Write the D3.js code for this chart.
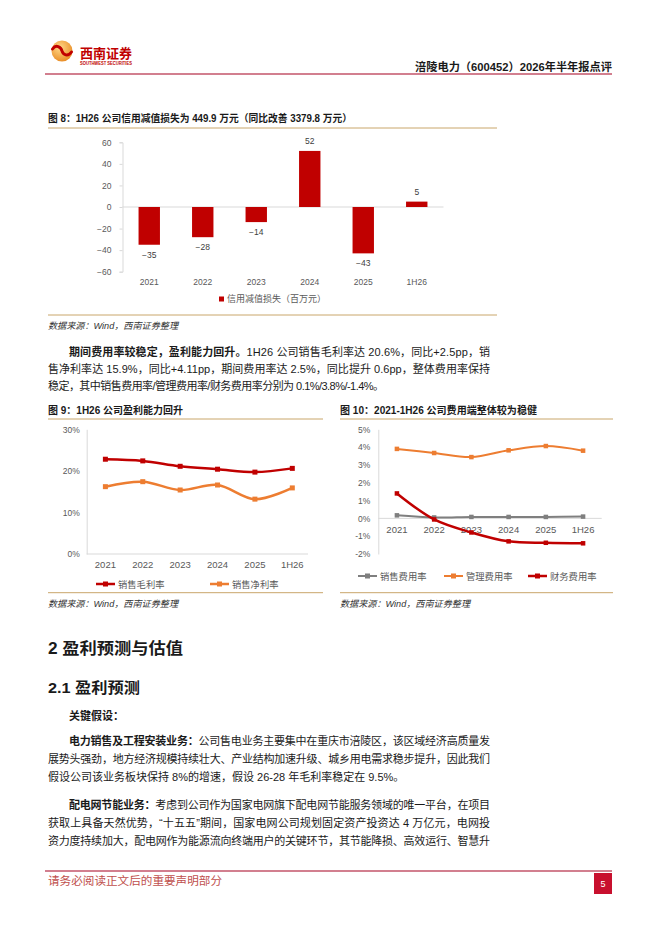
<!DOCTYPE html>
<html>
<head>
<meta charset="utf-8">
<script src="https://cdn.jsdelivr.net/npm/d3@7"></script>
<style>
  body { margin: 0; background: #fff; }
  svg text { font-family: "Liberation Sans", "Noto Sans CJK SC", sans-serif; }
</style>
</head>
<body>
<svg id="page" width="662" height="936"></svg>
<script>
// Data
const years = ['2021', '2022', '2023', '2024', '2025', '1H26'];
const creditLoss = [-35, -28, -14, 52, -43, 5];
const grossMargin = [22.8, 22.4, 21.1, 20.4, 19.7, 20.6];
const netMargin = [16.2, 17.4, 15.4, 16.6, 13.2, 15.9];
const salesExpRate = [0.17, 0.05, 0.08, 0.08, 0.08, 0.1];
const adminExpRate = [3.9, 3.67, 3.44, 3.82, 4.06, 3.8];
const financeExpRate = [1.4, -0.06, -0.79, -1.29, -1.37, -1.4];
const fig8Ticks = [-60, -40, -20, 0, 20, 40, 60];
const fig9Ticks = [0, 10, 20, 30];
const fig10Ticks = [-2, -1, 0, 1, 2, 3, 4, 5];

const RED = '#c00000';
const ORANGE = '#ed7d31';
const GRAY = '#7f7f7f';
const GOLD = '#c9a66b';
const AXIS = '#d9d9d9';
const LABEL = '#595959';

const svg = d3.select('#page');

function rule(x1, x2, y, color, w) {
    svg.append('line')
        .attr('x1', x1).attr('x2', x2).attr('y1', y).attr('y2', y)
        .attr('stroke', color).attr('stroke-width', w || 1);
}

function txt(x, y, s, size, opts) {
    opts = opts || {};
    const t = svg.append('text')
        .attr('x', x).attr('y', y)
        .attr('font-size', size)
        .attr('fill', opts.fill || '#1a1a1a')
        .attr('font-weight', opts.bold ? 'bold' : null)
        .attr('font-style', opts.italic ? 'italic' : null)
        .attr('text-anchor', opts.anchor || 'start')
        .text(s);
    if (opts.len) t.attr('textLength', opts.len).attr('lengthAdjust', 'spacingAndGlyphs');
    return t;
}

// body line made of bold / regular parts, optionally stretched to a right edge
function bodyLine(x, y, parts, right) {
    const t = svg.append('text')
        .attr('x', x).attr('y', y)
        .attr('font-size', 11)
        .attr('fill', '#1a1a1a');
    parts.forEach(p => {
        t.append('tspan')
            .attr('font-weight', p.b ? 'bold' : null)
            .text(p.t);
    });
    if (right) t.attr('textLength', right - x).attr('lengthAdjust', 'spacing');
}

// ---- Header ----
const grad = svg.append('defs').append('radialGradient')
    .attr('id', 'logoGrad').attr('cx', '40%').attr('cy', '35%').attr('r', '70%');
grad.append('stop').attr('offset', '0%').attr('stop-color', '#ffd98a');
grad.append('stop').attr('offset', '100%').attr('stop-color', '#e88a22');
svg.append('circle').attr('cx', 62).attr('cy', 51).attr('r', 10.5).attr('fill', 'url(#logoGrad)');
svg.append('path')
    .attr('d', 'M52.5,49 C56,44 61,47 62,51 C63,55 68,57 71.5,52')
    .attr('fill', 'none').attr('stroke', RED).attr('stroke-width', 3).attr('stroke-linecap', 'round');
txt(80, 58, '西南证券', 13, {fill: RED, bold: true, len: 52});
txt(80, 65, 'SOUTHWEST SECURITIES', 4.5, {fill: RED, bold: true, len: 52});
txt(612, 71, '涪陵电力（600452）2026年半年报点评', 11.2, {bold: true, anchor: 'end', len: 197});
rule(45, 612, 74, '#a50021', 1.2);

// ---- Figure 8 ----
txt(48, 121.5, '图 8：1H26 公司信用减值损失为 449.9 万元（同比改善 3379.8 万元）', 10, {bold: true, len: 304});
rule(48, 497, 128, GOLD, 1);

const x8 = d3.scaleBand().domain(years).range([122.5, 443.5]).paddingInner(0.6).paddingOuter(0.3);
const y8 = d3.scaleLinear().domain([-60, 60]).range([271.7, 142.3]);

const ax8 = svg.append('g')
    .attr('transform', 'translate(122.5,0)')
    .call(d3.axisLeft(y8).tickValues(fig8Ticks).tickSize(3).tickPadding(8));
ax8.select('.domain').attr('stroke', AXIS);
ax8.selectAll('.tick line').attr('stroke', AXIS);
ax8.selectAll('.tick text').attr('fill', LABEL).attr('font-size', 8.5)
    .style('font-family', '"Liberation Sans", sans-serif');

rule(122.5, 443.5, y8(0), AXIS, 1);

svg.append('g').selectAll('rect')
    .data(creditLoss)
    .join('rect')
    .attr('x', (d, i) => x8(years[i]))
    .attr('width', x8.bandwidth())
    .attr('y', d => Math.min(y8(d), y8(0)))
    .attr('height', d => Math.abs(y8(d) - y8(0)))
    .attr('fill', RED);

svg.append('g').selectAll('text')
    .data(creditLoss)
    .join('text')
    .attr('x', (d, i) => x8(years[i]) + x8.bandwidth() / 2)
    .attr('y', d => d < 0 ? y8(d) + 13 : y8(d) - 7)
    .attr('text-anchor', 'middle')
    .attr('font-size', 8.5)
    .attr('fill', '#404040')
    .text(d => d3.format('d')(d));

svg.append('g').selectAll('text')
    .data(years)
    .join('text')
    .attr('x', d => x8(d) + x8.bandwidth() / 2)
    .attr('y', 284.5)
    .attr('text-anchor', 'middle')
    .attr('font-size', 8.5)
    .attr('fill', LABEL)
    .text(d => d);

svg.append('rect').attr('x', 219).attr('y', 296.5).attr('width', 5).attr('height', 5).attr('fill', RED);
txt(227, 302, '信用减值损失（百万元）', 9, {fill: LABEL});

rule(48, 497, 315, GOLD, 1);
txt(48, 329, '数据来源：Wind，西南证券整理', 9, {italic: true, fill: '#333', len: 130});

// ---- Paragraph ----
bodyLine(69, 356, [{t: '期间费用率较稳定，盈利能力回升。', b: true}, {t: '1H26 公司销售毛利率达 20.6%，同比+2.5pp，销'}], 490);
bodyLine(48, 373, [{t: '售净利率达 15.9%，同比+4.11pp，期间费用率达 2.5%，同比提升 0.6pp，整体费用率保持'}], 490);
bodyLine(48, 390, [{t: '稳定，其中销售费用率/管理费用率/财务费用率分别为 0.1%/3.8%/-1.4%。'}], 384);

// ---- Figure 9 ----
txt(48, 413.5, '图 9：1H26 公司盈利能力回升', 10, {bold: true, len: 135});
rule(48, 323, 419, GOLD, 1);

const x9 = d3.scalePoint().domain(years).range([86.7, 311]).padding(0.5);
const y9 = d3.scaleLinear().domain([0, 30]).range([554, 429.3]);

const ax9 = svg.append('g')
    .attr('transform', 'translate(86.7,0)')
    .call(d3.axisLeft(y9).tickValues(fig9Ticks).tickSize(0).tickPadding(7).tickFormat(d => d + '%'));
ax9.select('.domain').attr('stroke', AXIS);
ax9.selectAll('.tick text').attr('fill', LABEL).attr('font-size', 8.5)
    .style('font-family', '"Liberation Sans", sans-serif');
rule(86.7, 308, y9(0), AXIS, 1);

svg.append('g').selectAll('text')
    .data(years)
    .join('text')
    .attr('x', d => x9(d))
    .attr('y', 567.5)
    .attr('text-anchor', 'middle')
    .attr('font-size', 9.5)
    .attr('fill', LABEL)
    .text(d => d);

function series(xs, ys, values, color, width, size) {
    const line = d3.line()
        .x((d, i) => xs(years[i]))
        .y(d => ys(d))
        .curve(d3.curveCatmullRom);
    svg.append('path')
        .datum(values)
        .attr('d', line)
        .attr('fill', 'none')
        .attr('stroke', color)
        .attr('stroke-width', width);
    svg.append('g').selectAll('rect')
        .data(values)
        .join('rect')
        .attr('x', (d, i) => xs(years[i]) - size / 2)
        .attr('y', d => ys(d) - size / 2)
        .attr('width', size).attr('height', size)
        .attr('fill', color);
}

series(x9, y9, grossMargin, RED, 2.5, 5);
series(x9, y9, netMargin, ORANGE, 2.5, 5);

function legendItem(x, y, color, label, width) {
    svg.append('line').attr('x1', x).attr('x2', x + 19).attr('y1', y).attr('y2', y)
        .attr('stroke', color).attr('stroke-width', width);
    svg.append('rect').attr('x', x + 7).attr('y', y - 2.5).attr('width', 5).attr('height', 5).attr('fill', color);
    txt(x + 22, y + 3.5, label, 9.3, {fill: LABEL});
}
legendItem(96, 584, RED, '销售毛利率', 2.5);
legendItem(210, 584, ORANGE, '销售净利率', 2.5);

rule(48, 323, 592.7, GOLD, 1);
txt(48, 606.5, '数据来源：Wind，西南证券整理', 9, {italic: true, fill: '#333', len: 130});

// ---- Figure 10 ----
txt(340, 413.5, '图 10：2021-1H26 公司费用端整体较为稳健', 10, {bold: true, len: 197});
rule(340, 613, 419, GOLD, 1);

const x10 = d3.scalePoint().domain(years).range([378.3, 601.7]).padding(0.5);
const y10 = d3.scaleLinear().domain([-2, 5]).range([554, 429.3]);

const ax10 = svg.append('g')
    .attr('transform', 'translate(378.3,0)')
    .call(d3.axisLeft(y10).tickValues(fig10Ticks).tickSize(0).tickPadding(8).tickFormat(d => String(d) + '%'));
ax10.select('.domain').attr('stroke', AXIS);
ax10.selectAll('.tick text').attr('fill', LABEL).attr('font-size', 8.5)
    .style('font-family', '"Liberation Sans", sans-serif');
rule(378.3, 601.7, y10(0), AXIS, 1);

svg.append('g').selectAll('text')
    .data(years)
    .join('text')
    .attr('x', d => x10(d))
    .attr('y', 532.5)
    .attr('text-anchor', 'middle')
    .attr('font-size', 9.5)
    .attr('fill', LABEL)
    .text(d => d);

series(x10, y10, salesExpRate, GRAY, 2, 4.5);
series(x10, y10, adminExpRate, ORANGE, 2, 4.5);
series(x10, y10, financeExpRate, RED, 2.5, 4.5);

legendItem(358, 576, GRAY, '销售费用率', 2);
legendItem(444, 576, ORANGE, '管理费用率', 2);
legendItem(528, 576, RED, '财务费用率', 2.5);

rule(340, 613, 592.7, GOLD, 1);
txt(340, 606.5, '数据来源：Wind，西南证券整理', 9, {italic: true, fill: '#333', len: 130});

// ---- Section 2 ----
txt(48, 654, '2 盈利预测与估值', 16, {bold: true, len: 135});
txt(48, 693, '2.1 盈利预测', 14.5, {bold: true, len: 92});
txt(69, 720, '关键假设：', 11, {bold: true});

bodyLine(69, 745, [{t: '电力销售及工程安装业务：', b: true}, {t: '公司售电业务主要集中在重庆市涪陵区，该区域经济高质量发'}], 490);
bodyLine(48, 763, [{t: '展势头强劲，地方经济规模持续壮大、产业结构加速升级、城乡用电需求稳步提升，因此我们'}], 490);
bodyLine(48, 781, [{t: '假设公司该业务板块保持 8%的增速，假设 26-28 年毛利率稳定在 9.5%。'}]);

bodyLine(69, 809, [{t: '配电网节能业务：', b: true}, {t: '考虑到公司作为国家电网旗下配电网节能服务领域的唯一平台，在项目'}], 490);
bodyLine(48, 827, [{t: '获取上具备天然优势，“十五五”期间，国家电网公司规划固定资产投资达 4 万亿元，电网投'}], 490);
bodyLine(48, 845, [{t: '资力度持续加大，配电网作为能源流向终端用户的关键环节，其节能降损、高效运行、智慧升'}], 490);

// ---- Footer ----
rule(45, 612, 871, '#a50021', 1.2);
txt(48, 885, '请务必阅读正文后的重要声明部分', 11.5, {fill: '#c0504d', len: 174});
svg.append('rect').attr('x', 594).attr('y', 873).attr('width', 18).attr('height', 21).attr('fill', '#c8102e');
txt(603, 887, '5', 9, {fill: '#fff', anchor: 'middle'});
</script>
</body>
</html>
